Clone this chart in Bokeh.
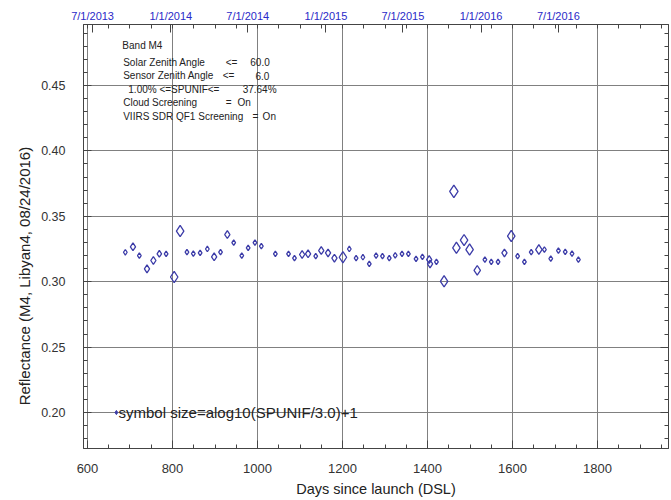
import datetime
import numpy as np
from bokeh.plotting import figure
from bokeh.models import LinearAxis, FixedTicker, Range1d, Label, CustomLabelingPolicy
from bokeh.embed import file_html
from bokeh.resources import INLINE

# ---- data ----
dsl = [689, 707, 722, 740, 755, 769, 785, 804, 818, 834, 849, 865, 882, 898, 913,
       929, 944, 963, 978, 994, 1009, 1042, 1073, 1087, 1105, 1119, 1137, 1150, 1166,
       1181, 1201, 1216, 1232, 1248, 1263, 1279, 1294, 1310, 1324, 1340, 1355, 1373,
       1388, 1404, 1406, 1421, 1439, 1462, 1468, 1486, 1499, 1517, 1535, 1550, 1566,
       1581, 1597, 1612, 1628, 1644, 1662, 1675, 1690, 1708, 1724, 1740, 1755]
refl = [0.3225, 0.3267, 0.3200, 0.3098, 0.3162, 0.3213, 0.3213, 0.3036, 0.3387, 0.3226,
        0.3215, 0.3220, 0.3250, 0.3190, 0.3226, 0.3360, 0.3298, 0.3200, 0.3259, 0.3298,
        0.3272, 0.3213, 0.3213, 0.3180, 0.3208, 0.3213, 0.3195, 0.3238, 0.3220, 0.3180,
        0.3187, 0.3250, 0.3180, 0.3187, 0.3136, 0.3200, 0.3195, 0.3180, 0.3202, 0.3213,
        0.3213, 0.3175, 0.3190, 0.3169, 0.3136, 0.3152, 0.3003, 0.3690, 0.3259, 0.3318,
        0.3246, 0.3087, 0.3169, 0.3152, 0.3152, 0.3220, 0.3349, 0.3195, 0.3152, 0.3226,
        0.3246, 0.3246, 0.3177, 0.3238, 0.3228, 0.3215, 0.3169]
spunif = [2.5, 6, 2.5, 6, 6, 4, 2.5, 22, 22, 2.5,
          2.5, 2.5, 2.5, 6, 2.5, 6, 2.5, 2.5, 2.5, 2.5,
          2.5, 2.5, 2.5, 2.5, 6, 6, 2.5, 6, 6, 6,
          22, 2.5, 2.5, 2.5, 2.5, 2.5, 2.5, 2.5, 2.5, 2.5,
          2.5, 2.5, 2.5, 6, 6, 2.5, 22, 37.64, 22, 22,
          22, 12, 2.5, 2.5, 2.5, 6, 22, 2.5, 2.5, 2.5,
          12, 2.5, 2.5, 2.5, 2.5, 2.5, 2.5]

x_ticks = [600, 800, 1000, 1200, 1400, 1600, 1800]
y_ticks = [0.20, 0.25, 0.30, 0.35, 0.40, 0.45]
y_labels = ["0.20", "0.25", "0.30", "0.35", "0.40", "0.45"]
date_labels = ["7/1/2013", "1/1/2014", "7/1/2014", "1/1/2015", "7/1/2015", "1/1/2016", "7/1/2016"]
launch = datetime.date(2011, 10, 28)
date_dsl = [(datetime.datetime.strptime(d, "%m/%d/%Y").date() - launch).days for d in date_labels]

legend_x = [668]
legend_y = [0.20]
legend_spunif = [3.0]

FONT = "Liberation Sans"
MARK = "#3c3ca8"
AX = "#444444"
TXT = "#222222"

p = figure(width=671, height=500, output_backend="svg", toolbar_location=None,
           x_range=Range1d(590.6, 1967), y_range=Range1d(0.1725, 0.4966),
           x_axis_location=None, y_axis_location=None,
           min_border_left=83, min_border_right=3, min_border_top=24, min_border_bottom=52)
p.background_fill_color = "white"
p.border_fill_color = "white"
p.outline_line_color = AX
p.outline_line_width = 1

minor_x = list(range(600, 1951, 50))
minor_y = [round(0.18 + 0.01 * i, 2) for i in range(32)]

def style(ax):
    ax.axis_line_color = AX
    ax.major_tick_in = 8
    ax.major_tick_out = 0
    ax.minor_tick_in = 4
    ax.minor_tick_out = 0
    ax.major_tick_line_color = AX
    ax.minor_tick_line_color = AX
    ax.major_label_text_font = FONT
    ax.major_label_text_color = "#333333"
    ax.axis_label_text_font = FONT
    ax.axis_label_text_font_style = "normal"
    ax.axis_label_text_color = TXT

xb = LinearAxis(ticker=FixedTicker(ticks=x_ticks, minor_ticks=minor_x),
                axis_label="Days since launch (DSL)")
style(xb)
xb.major_label_text_font_size = "13px"
xb.major_label_standoff = 15
xb.axis_label_text_font_size = "14.5px"
xb.axis_label_standoff = 5
p.add_layout(xb, "below")

xt = LinearAxis(ticker=FixedTicker(ticks=date_dsl, minor_ticks=minor_x))
style(xt)
xt.major_label_overrides = {d: l for d, l in zip(date_dsl, date_labels)}
xt.major_label_text_font_size = "11px"
xt.major_label_text_color = "#2a2ac8"
xt.major_label_standoff = 3
p.add_layout(xt, "above")

# y title: trailing no-break spaces move the visible text below the frame centre, as in the original
yl = LinearAxis(ticker=FixedTicker(ticks=y_ticks, minor_ticks=minor_y),
                axis_label="Reflectance (M4, Libyan4, 08/24/2016)" + "\u00a0" * 19)
style(yl)
yl.major_label_overrides = {t: l for t, l in zip(y_ticks, y_labels)}
yl.major_label_text_font_size = "12.5px"
yl.major_label_standoff = 18
yl.axis_label_text_font_size = "15px"
yl.axis_label_standoff = 5
p.add_layout(yl, "left")

yr = LinearAxis(ticker=FixedTicker(ticks=y_ticks, minor_ticks=minor_y))
style(yr)
yr.major_label_overrides = {t: "" for t in y_ticks}
yr.major_label_policy = CustomLabelingPolicy(code="for (const i of indices) { if (i < 0) yield i }")
yr.major_label_standoff = 0
p.add_layout(yr, "right")

p.xgrid.ticker = FixedTicker(ticks=x_ticks)
p.ygrid.ticker = FixedTicker(ticks=y_ticks)
for g in (p.xgrid, p.ygrid):
    g.grid_line_color = "#808080"
    g.grid_line_width = 1

K = 6.0
sizes = (np.log10(np.array(spunif) / 3.0) + 1.0) * K
p.scatter(dsl, refl, marker="diamond", size=sizes, fill_color=None,
          line_color=MARK, line_width=1.3)

lsize = (np.log10(np.array(legend_spunif) / 3.0) + 1.0) * K * 0.7
p.scatter(legend_x, legend_y, marker="diamond", size=lsize, fill_color=MARK,
          line_color=MARK, line_width=1)
p.add_layout(Label(x=673, y=0.20, text="symbol size=alog10(SPUNIF/3.0)+1",
                   text_font=FONT, text_font_size="15px", text_color=TXT,
                   text_baseline="middle"))

# annotation block
ann = [
    [(682, "Band M4")],
    [(684, "Solar Zenith Angle"), (925, "<="), (983, "60.0")],
    [(684, "Sensor Zenith Angle"), (918, "<="), (995, "6.0")],
    [(696, "1.00% <=SPUNIF<="), (965, "37.64%")],
    [(684, "Cloud Screening"), (925, "="), (953, "On")],
    [(684, "VIIRS SDR QF1 Screening"), (988, "="), (1012, "On")],
]
ann_y = [0.4806, 0.4676, 0.4576, 0.4469, 0.4370, 0.4263]
for yv, parts in zip(ann_y, ann):
    for xv, t in parts:
        p.add_layout(Label(x=xv, y=yv, text=t, text_font=FONT, text_font_size="10px",
                           text_color=TXT, text_baseline="middle"))

open("out.html", "w").write(file_html(p, INLINE))
